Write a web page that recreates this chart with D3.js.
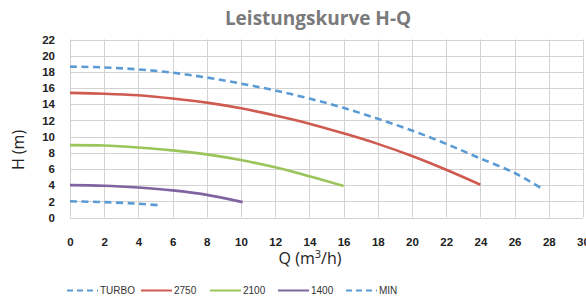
<!DOCTYPE html>
<html>
<head>
<meta charset="utf-8">
<script src="https://cdn.jsdelivr.net/npm/d3@7"></script>
<style>
  body { margin: 0; background: #fff; }
  svg { display: block; }
</style>
</head>
<body>
<svg id="chart" width="586" height="298"></svg>
<script>
// Pump curves H over Q
const qTicks = [0, 2, 4, 6, 8, 10, 12, 14, 16, 18, 20, 22, 24, 26, 28, 30];
const hTicks = [0, 2, 4, 6, 8, 10, 12, 14, 16, 18, 20, 22];

const turboQ = [0, 2, 4, 6, 8, 10, 12, 14, 16, 18, 20, 22, 24, 26, 27.5];
const turboH = [18.65, 18.55, 18.3, 17.9, 17.3, 16.55, 15.7, 14.7, 13.55, 12.2, 10.75, 9.1, 7.3, 5.5, 3.7];

const q2750 = [0, 2, 4, 6, 8, 10, 12, 14, 16, 18, 20, 22, 24];
const h2750 = [15.4, 15.3, 15.1, 14.7, 14.2, 13.5, 12.6, 11.6, 10.4, 9.1, 7.6, 5.9, 4.05];

const q2100 = [0, 2, 4, 6, 8, 10, 12, 14, 16];
const h2100 = [8.95, 8.9, 8.65, 8.3, 7.8, 7.1, 6.2, 5.1, 3.9];

const q1400 = [0, 2, 4, 6, 8, 10.1];
const h1400 = [4.0, 3.93, 3.7, 3.35, 2.8, 1.9];

const minQ = [0, 2, 4, 5.3];
const minH = [2.0, 1.9, 1.7, 1.5];

const seriesNames = ["TURBO", "2750", "2100", "1400", "MIN"];
const seriesColors = ["#5b9bd5", "#cf5a50", "#9bc45a", "#8064a2", "#5b9bd5"];
const seriesDashed = [true, false, false, false, true];

const series = [
  d3.zip(turboQ, turboH),
  d3.zip(q2750, h2750),
  d3.zip(q2100, h2100),
  d3.zip(q1400, h1400),
  d3.zip(minQ, minH)
];

const svg = d3.select("#chart");
const plotLeft = 70, plotRight = 583, plotTop = 39.5, plotBottom = 217.5;

const x = d3.scaleLinear().domain([0, 30]).range([plotLeft, plotRight]);
const y = d3.scaleLinear().domain([0, 22]).range([plotBottom, plotTop]);

// title
svg.append("text")
  .attr("x", 318).attr("y", 25)
  .attr("text-anchor", "middle")
  .attr("font-family", "Open Sans, sans-serif")
  .attr("font-weight", "bold")
  .attr("font-size", 19)
  .attr("fill", "#7a7a7a")
  .text("Leistungskurve H-Q");

// grid
const grid = svg.append("g").attr("stroke", "#d2d2d2").attr("stroke-width", 1);
grid.selectAll(".v").data(qTicks).join("line")
  .attr("x1", d => Math.round(x(d)) + 0.5).attr("x2", d => Math.round(x(d)) + 0.5)
  .attr("y1", plotTop).attr("y2", plotBottom);
grid.selectAll(".h").data(hTicks).join("line")
  .attr("y1", d => Math.round(y(d)) + 0.5).attr("y2", d => Math.round(y(d)) + 0.5)
  .attr("x1", plotLeft).attr("x2", plotRight);

// axes
const xAxis = svg.append("g")
  .attr("transform", `translate(0,${plotBottom})`)
  .call(d3.axisBottom(x).tickValues(qTicks).tickSize(0).tickPadding(20));
const yAxis = svg.append("g")
  .attr("transform", `translate(${plotLeft},0)`)
  .call(d3.axisLeft(y).tickValues(hTicks).tickSize(0).tickPadding(15));
[xAxis, yAxis].forEach(a => {
  a.select(".domain").remove();
  a.selectAll("text")
    .attr("font-family", "Liberation Sans Narrow, Arial Narrow, sans-serif")
    .attr("font-weight", "bold")
    .attr("font-size", 11.5)
    .attr("fill", "#222");
});

// axis titles
svg.append("text")
  .attr("transform", "translate(24,150) rotate(-90)")
  .attr("text-anchor", "middle")
  .attr("font-family", "Open Sans, sans-serif")
  .attr("font-size", 16)
  .attr("fill", "#222")
  .text("H (m)");
svg.append("text")
  .attr("x", 310).attr("y", 264)
  .attr("text-anchor", "middle")
  .attr("font-family", "Open Sans, sans-serif")
  .attr("font-size", 16)
  .attr("fill", "#222")
  .html("Q (m<tspan font-size='11' dy='-6'>3</tspan><tspan dy='6'>/h)</tspan>");

// curves
const line = d3.line()
  .x(d => x(d[0])).y(d => y(d[1]))
  .curve(d3.curveCatmullRom.alpha(0.5));

svg.append("g").selectAll("path").data(series).join("path")
  .attr("d", line)
  .attr("fill", "none")
  .attr("stroke", (d, i) => seriesColors[i])
  .attr("stroke-width", 2.6)
  .attr("stroke-dasharray", (d, i) => seriesDashed[i] ? "7,4.5" : null);

// legend
const legendX = [67, 141, 210, 278, 346];
const lg = svg.append("g").selectAll("g").data(seriesNames).join("g")
  .attr("transform", (d, i) => `translate(${legendX[i]},290.5)`);
lg.append("line")
  .attr("x1", 0).attr("x2", 31).attr("y1", 0).attr("y2", 0)
  .attr("stroke", (d, i) => seriesColors[i])
  .attr("stroke-width", 2)
  .attr("stroke-dasharray", (d, i) => seriesDashed[i] ? "6,4" : null);
lg.append("text")
  .attr("x", 33)
  .attr("y", 3.5)
  .attr("font-family", "Liberation Sans Narrow, Arial Narrow, sans-serif")
  .attr("font-size", 10)
  .attr("fill", "#333")
  .text(d => d);
</script>
</body>
</html>
